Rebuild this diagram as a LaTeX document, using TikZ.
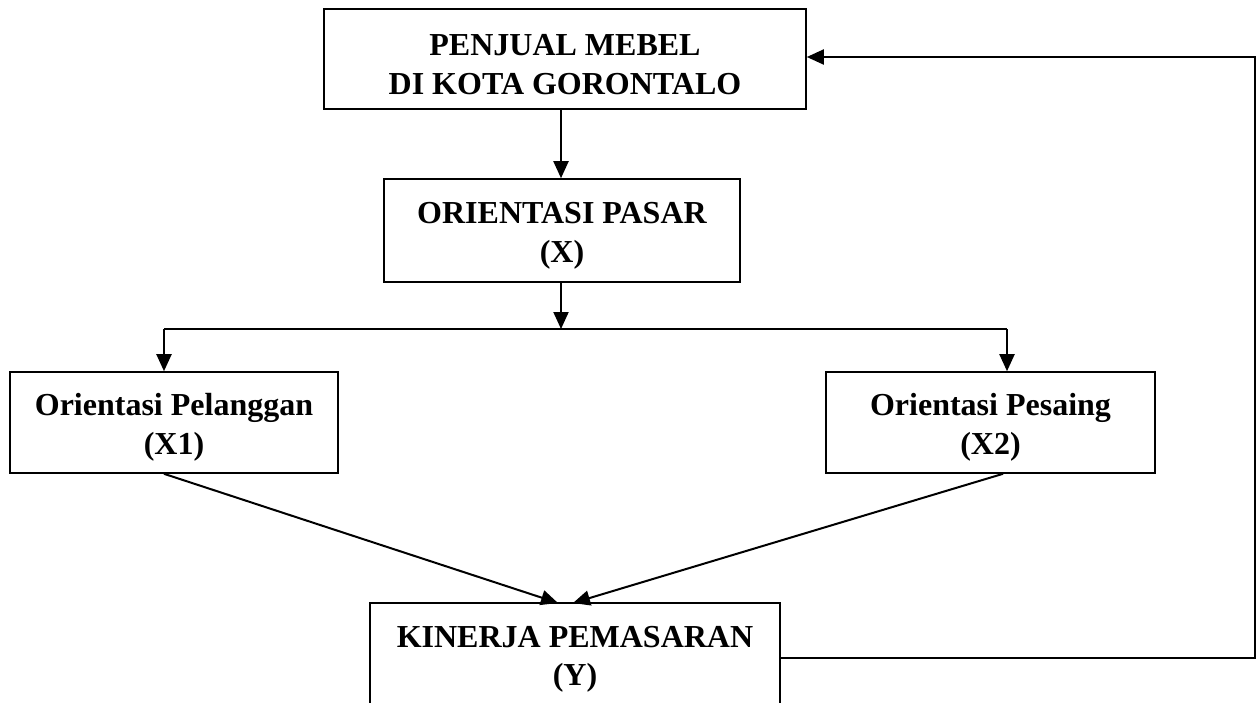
\documentclass[tikz,border=0pt]{standalone}
\usepackage{fontspec}
\setmainfont{Liberation Serif}
\usetikzlibrary{arrows.meta}
\newcommand\tallstrut{\rule{0pt}{32pt}}
\begin{document}
\begin{tikzpicture}[x=1pt,y=-1pt,
  box/.style={draw,line width=1.6pt,inner sep=0pt,align=center,
    font=\fontsize{32}{38.5}\selectfont\bfseries},
  conn/.style={line width=2pt,-{Triangle[length=17pt,width=15pt]}},
  plain/.style={line width=2pt}]
\useasboundingbox (0,0) rectangle (1257,702);
\clip (0,0) rectangle (1257,702);
\node[box,minimum width=482pt,minimum height=100pt] (top) at (565,59) {\tallstrut PENJUAL MEBEL\\DI KOTA GORONTALO};
\node[box,minimum width=356pt,minimum height=103pt] (pasar) at (562,230.5) {\tallstrut ORIENTASI PASAR\\(X)};
\node[box,minimum width=328pt,minimum height=101pt] (x1) at (174,422.5) {\tallstrut Orientasi Pelanggan\\(X1)};
\node[box,minimum width=329pt,minimum height=101pt] (x2) at (990.5,422.5) {\tallstrut Orientasi Pesaing\\(X2)};
\node[box,minimum width=410pt,minimum height=102pt] (y) at (575,654) {\tallstrut KINERJA PEMASARAN\\(Y)};
\coordinate (branch) at (561,329);
\coordinate (bl) at (164,329);
\coordinate (br) at (1007,329);
\coordinate (fr) at (1255,658);
\coordinate (fu) at (1255,57);
\draw[conn] (top.south -| branch) -- (pasar.north -| branch);
\draw[conn] (pasar.south -| branch) -- (branch);
\draw[plain] (bl) -- (br);
\draw[conn] (bl) -- (x1.north -| bl);
\draw[conn] (br) -- (x2.north -| br);
\draw[conn] (x1.south -| bl) -- (558,603);
\draw[conn] (x2.south -| 1003,0) -- (573,603);
\draw[conn] (y.east |- fr) -- (fr) -- (fu) -- (top.east |- fu);
\end{tikzpicture}
\end{document}
